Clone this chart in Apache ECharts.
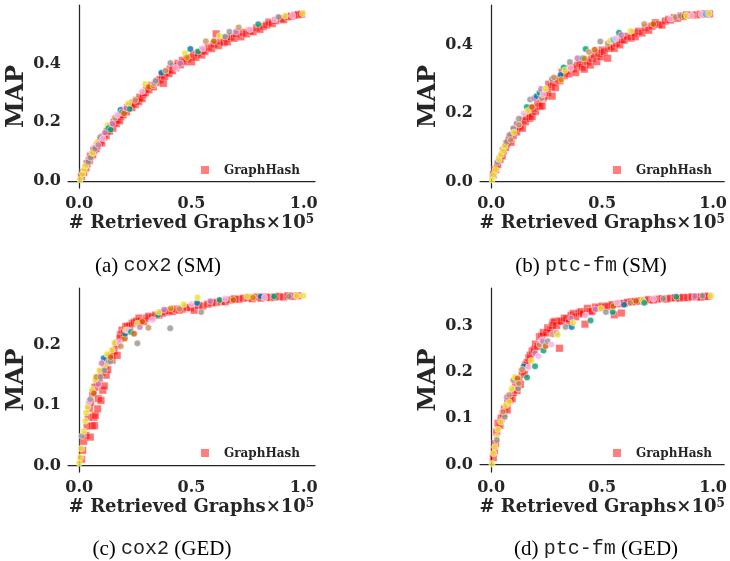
<!DOCTYPE html>
<html>
<head>
<meta charset="utf-8">
<script src="https://cdn.jsdelivr.net/npm/echarts@6/dist/echarts.min.js"></script>
<style>
  html, body { margin: 0; padding: 0; background: #fff; }
  #chart { width: 730px; height: 561px; }
</style>
</head>
<body>
<div id="chart"></div>
<script>
// Retrieval MAP vs number of retrieved graphs (x in units of 1e5).
// GraphHash points: [x, y]; other methods: [x, y, methodIndex].

const coxSmHash = [[0.01,0.015],[0.02,0.03],[0.03,0.045],[0.035,0.06],[0.045,0.07],[0.05,0.085],[0.06,0.09],[0.065,0.105],[0.075,0.11],[0.08,0.12],[0.09,0.13],[0.095,0.14],[0.1,0.13],[0.11,0.15],[0.12,0.155],[0.125,0.17],[0.135,0.17],[0.14,0.185],[0.15,0.18],[0.155,0.2],[0.165,0.195],[0.17,0.21],[0.18,0.205],[0.185,0.22],[0.195,0.225],[0.2,0.24],[0.21,0.235],[0.215,0.25],[0.225,0.255],[0.235,0.25],[0.24,0.265],[0.25,0.26],[0.255,0.275],[0.265,0.27],[0.27,0.285],[0.28,0.28],[0.285,0.295],[0.295,0.3],[0.3,0.315],[0.31,0.31],[0.32,0.325],[0.33,0.32],[0.345,0.335],[0.35,0.34],[0.36,0.345],[0.375,0.332],[0.37,0.36],[0.38,0.355],[0.39,0.37],[0.4,0.365],[0.405,0.38],[0.415,0.375],[0.42,0.39],[0.43,0.385],[0.44,0.4],[0.45,0.395],[0.46,0.41],[0.47,0.405],[0.48,0.415],[0.49,0.42],[0.5,0.405],[0.51,0.43],[0.52,0.42],[0.53,0.435],[0.545,0.428],[0.55,0.445],[0.56,0.44],[0.575,0.455],[0.59,0.45],[0.6,0.465],[0.61,0.5],[0.62,0.46],[0.63,0.475],[0.645,0.47],[0.655,0.485],[0.66,0.473],[0.675,0.49],[0.69,0.485],[0.7,0.5],[0.72,0.49],[0.73,0.505],[0.745,0.5],[0.76,0.51],[0.775,0.507],[0.79,0.52],[0.805,0.515],[0.82,0.525],[0.835,0.53],[0.845,0.54],[0.86,0.535],[0.875,0.545],[0.9,0.552],[0.91,0.548],[0.93,0.558],[0.945,0.56],[0.96,0.563],[0.975,0.565],[0.99,0.567]];

const coxSmOthers = [[0.004,0.006,8],[0.015,0.025,8],[0.022,0.04,8],[0.03,0.052,8],[0.04,0.065,7],[0.05,0.08,7],[0.06,0.095,8],[0.07,0.11,7],[0.079,0.13,8],[0.085,0.123,4],[0.094,0.15,7],[0.105,0.145,6],[0.115,0.165,4],[0.126,0.19,8],[0.13,0.18,2],[0.14,0.175,2],[0.148,0.195,4],[0.159,0.215,5],[0.17,0.225,6],[0.184,0.242,0],[0.19,0.235,7],[0.2,0.23,3],[0.21,0.248,4],[0.219,0.265,8],[0.225,0.245,2],[0.25,0.275,5],[0.28,0.305,6],[0.294,0.33,8],[0.31,0.32,3],[0.33,0.325,1],[0.334,0.333,4],[0.34,0.34,7],[0.366,0.368,0],[0.385,0.375,5],[0.406,0.401,7],[0.43,0.385,6],[0.45,0.4,4],[0.471,0.434,8],[0.48,0.42,1],[0.495,0.449,0],[0.53,0.44,2],[0.55,0.45,6],[0.564,0.475,5],[0.6,0.475,3],[0.625,0.493,8],[0.65,0.49,7],[0.669,0.507,7],[0.699,0.507,4],[0.71,0.522,5],[0.76,0.515,6],[0.797,0.533,2],[0.869,0.549,6],[0.887,0.557,7],[0.917,0.561,8],[0.95,0.562,6],[0.995,0.569,8]];

const ptcSmHash = [[0.01,0.02],[0.02,0.035],[0.03,0.05],[0.04,0.065],[0.05,0.075],[0.055,0.09],[0.065,0.1],[0.07,0.11],[0.08,0.12],[0.085,0.13],[0.09,0.115],[0.1,0.135],[0.105,0.15],[0.115,0.145],[0.12,0.165],[0.13,0.16],[0.141,0.156],[0.145,0.18],[0.155,0.175],[0.16,0.19],[0.17,0.2],[0.175,0.185],[0.185,0.19],[0.19,0.215],[0.2,0.205],[0.21,0.23],[0.22,0.22],[0.23,0.221],[0.235,0.245],[0.245,0.25],[0.255,0.26],[0.26,0.285],[0.27,0.278],[0.275,0.25],[0.28,0.29],[0.29,0.275],[0.3,0.3],[0.31,0.295],[0.32,0.32],[0.33,0.31],[0.34,0.325],[0.35,0.315],[0.36,0.335],[0.37,0.33],[0.381,0.319],[0.39,0.34],[0.4,0.345],[0.41,0.335],[0.42,0.329],[0.425,0.355],[0.435,0.35],[0.447,0.341],[0.455,0.36],[0.465,0.37],[0.476,0.351],[0.485,0.375],[0.495,0.365],[0.5,0.385],[0.51,0.38],[0.525,0.361],[0.53,0.39],[0.54,0.395],[0.555,0.39],[0.565,0.405],[0.58,0.4],[0.59,0.415],[0.6,0.414],[0.615,0.425],[0.63,0.42],[0.645,0.435],[0.65,0.424],[0.665,0.44],[0.68,0.435],[0.695,0.45],[0.71,0.443],[0.725,0.455],[0.74,0.465],[0.755,0.46],[0.77,0.458],[0.785,0.47],[0.8,0.475],[0.808,0.473],[0.825,0.48],[0.84,0.478],[0.855,0.485],[0.866,0.483],[0.88,0.488],[0.9,0.487],[0.925,0.488],[0.945,0.49],[0.965,0.491],[0.984,0.491]];

const ptcSmOthers = [[0.004,0.005,8],[0.012,0.02,8],[0.02,0.035,8],[0.029,0.057,7],[0.035,0.065,8],[0.044,0.078,8],[0.055,0.09,8],[0.062,0.104,8],[0.07,0.116,7],[0.085,0.137,7],[0.088,0.122,5],[0.1,0.156,7],[0.103,0.144,8],[0.115,0.17,4],[0.125,0.184,7],[0.125,0.166,5],[0.147,0.2,6],[0.161,0.218,2],[0.165,0.207,8],[0.176,0.24,7],[0.184,0.218,3],[0.194,0.244,4],[0.205,0.25,0],[0.218,0.26,2],[0.225,0.271,4],[0.228,0.244,5],[0.235,0.255,6],[0.245,0.272,8],[0.274,0.3,7],[0.283,0.305,5],[0.313,0.312,0],[0.315,0.298,1],[0.327,0.334,2],[0.333,0.326,8],[0.355,0.35,7],[0.358,0.332,6],[0.389,0.361,4],[0.414,0.361,0],[0.42,0.36,1],[0.426,0.388,2],[0.441,0.379,5],[0.467,0.386,3],[0.492,0.41,7],[0.526,0.405,5],[0.536,0.412,8],[0.55,0.415,9],[0.562,0.419,6],[0.576,0.436,2],[0.587,0.429,4],[0.629,0.441,8],[0.69,0.461,5],[0.731,0.461,3],[0.808,0.476,6],[0.83,0.481,5],[0.852,0.485,7],[0.87,0.484,3],[0.881,0.486,8],[0.903,0.486,6],[0.947,0.49,6],[0.965,0.49,9],[0.981,0.492,8]];

const coxGedHash = [[0.01,0.01],[0.015,0.025],[0.02,0.04],[0.03,0.05],[0.035,0.065],[0.04,0.08],[0.045,0.095],[0.049,0.047],[0.05,0.105],[0.057,0.066],[0.06,0.12],[0.065,0.08],[0.068,0.066],[0.07,0.13],[0.072,0.083],[0.08,0.138],[0.082,0.094],[0.085,0.111],[0.09,0.145],[0.097,0.108],[0.1,0.155],[0.105,0.125],[0.112,0.132],[0.115,0.165],[0.12,0.15],[0.124,0.173],[0.127,0.159],[0.135,0.18],[0.144,0.183],[0.146,0.175],[0.155,0.19],[0.165,0.2],[0.169,0.183],[0.17,0.203],[0.181,0.211],[0.184,0.217],[0.19,0.225],[0.2,0.22],[0.207,0.231],[0.214,0.231],[0.225,0.232],[0.236,0.236],[0.245,0.238],[0.255,0.24],[0.266,0.245],[0.275,0.24],[0.288,0.239],[0.3,0.245],[0.31,0.248],[0.326,0.247],[0.34,0.25],[0.355,0.25],[0.37,0.253],[0.385,0.255],[0.4,0.257],[0.415,0.256],[0.43,0.26],[0.445,0.258],[0.46,0.26],[0.48,0.263],[0.495,0.262],[0.512,0.258],[0.53,0.266],[0.55,0.265],[0.572,0.268],[0.59,0.27],[0.61,0.271],[0.632,0.273],[0.65,0.272],[0.67,0.275],[0.692,0.277],[0.71,0.276],[0.73,0.278],[0.752,0.279],[0.77,0.277],[0.79,0.28],[0.81,0.278],[0.83,0.28],[0.85,0.279],[0.87,0.28],[0.89,0.281],[0.91,0.28],[0.93,0.282],[0.95,0.281],[0.975,0.282]];

const coxGedOthers = [[0.0,0.004,8],[0.005,0.013,8],[0.009,0.028,8],[0.012,0.049,7],[0.02,0.057,8],[0.027,0.074,8],[0.031,0.088,8],[0.037,0.097,8],[0.042,0.105,6],[0.049,0.11,7],[0.057,0.126,8],[0.065,0.12,3],[0.072,0.142,8],[0.076,0.147,1],[0.085,0.135,4],[0.094,0.147,7],[0.09,0.158,8],[0.112,0.166,8],[0.112,0.158,7],[0.109,0.178,0],[0.1,0.17,4],[0.124,0.185,8],[0.131,0.173,7],[0.139,0.173,7],[0.146,0.192,8],[0.14,0.18,3],[0.157,0.204,8],[0.177,0.204,6],[0.185,0.198,5],[0.203,0.211,3],[0.204,0.219,0],[0.208,0.225,8],[0.217,0.225,6],[0.23,0.222,2],[0.244,0.219,3],[0.259,0.203,7],[0.259,0.236,8],[0.27,0.23,4],[0.281,0.239,3],[0.308,0.229,5],[0.326,0.242,6],[0.351,0.25,2],[0.355,0.255,8],[0.378,0.259,4],[0.405,0.228,7],[0.408,0.261,1],[0.446,0.26,5],[0.465,0.268,8],[0.501,0.268,6],[0.525,0.27,0],[0.527,0.279,8],[0.543,0.255,7],[0.584,0.273,4],[0.625,0.275,2],[0.65,0.277,6],[0.687,0.275,3],[0.749,0.281,8],[0.774,0.279,1],[0.808,0.281,0],[0.826,0.279,6],[0.868,0.281,2],[0.934,0.281,7],[0.968,0.282,8],[0.998,0.282,8]];

const ptcGedHash = [[0.01,0.015],[0.015,0.03],[0.02,0.045],[0.025,0.07],[0.031,0.089],[0.04,0.085],[0.045,0.1],[0.055,0.11],[0.06,0.12],[0.073,0.118],[0.075,0.135],[0.085,0.14],[0.095,0.142],[0.1,0.155],[0.11,0.17],[0.117,0.16],[0.125,0.18],[0.132,0.173],[0.14,0.2],[0.15,0.195],[0.155,0.215],[0.162,0.22],[0.17,0.23],[0.176,0.236],[0.185,0.245],[0.194,0.248],[0.2,0.26],[0.21,0.255],[0.218,0.276],[0.228,0.277],[0.235,0.285],[0.25,0.284],[0.255,0.295],[0.268,0.292],[0.275,0.3],[0.279,0.306],[0.286,0.309],[0.295,0.3],[0.308,0.251],[0.31,0.31],[0.317,0.309],[0.33,0.316],[0.34,0.315],[0.352,0.306],[0.36,0.322],[0.37,0.326],[0.381,0.319],[0.396,0.327],[0.405,0.33],[0.415,0.325],[0.423,0.303],[0.434,0.337],[0.445,0.33],[0.455,0.331],[0.47,0.34],[0.484,0.338],[0.5,0.342],[0.515,0.34],[0.529,0.342],[0.545,0.345],[0.555,0.323],[0.573,0.347],[0.587,0.327],[0.6,0.348],[0.615,0.35],[0.632,0.351],[0.65,0.352],[0.67,0.353],[0.69,0.354],[0.71,0.356],[0.73,0.355],[0.749,0.357],[0.77,0.358],[0.79,0.357],[0.808,0.359],[0.83,0.36],[0.85,0.359],[0.866,0.361],[0.885,0.36],[0.905,0.362],[0.925,0.362],[0.945,0.361],[0.96,0.363],[0.977,0.363]];

const ptcGedOthers = [[0.004,0.002,8],[0.011,0.024,8],[0.017,0.038,8],[0.025,0.06,8],[0.026,0.053,7],[0.031,0.076,8],[0.044,0.092,8],[0.062,0.103,7],[0.054,0.114,5],[0.066,0.128,8],[0.081,0.135,8],[0.071,0.146,4],[0.081,0.15,5],[0.093,0.164,8],[0.1,0.182,5],[0.108,0.189,8],[0.122,0.164,7],[0.119,0.186,3],[0.125,0.175,5],[0.147,0.212,0],[0.14,0.205,5],[0.162,0.188,2],[0.169,0.21,6],[0.181,0.224,8],[0.198,0.212,2],[0.198,0.24,4],[0.213,0.234,6],[0.218,0.259,5],[0.228,0.268,6],[0.233,0.266,4],[0.236,0.246,2],[0.246,0.256,3],[0.255,0.266,7],[0.272,0.259,6],[0.277,0.281,5],[0.294,0.284,4],[0.3,0.28,8],[0.335,0.297,7],[0.36,0.316,4],[0.363,0.297,0],[0.37,0.306,8],[0.426,0.322,6],[0.448,0.311,2],[0.47,0.335,4],[0.495,0.337,8],[0.517,0.329,7],[0.548,0.329,2],[0.551,0.342,3],[0.568,0.349,6],[0.599,0.345,0],[0.627,0.349,5],[0.653,0.353,3],[0.683,0.354,8],[0.69,0.349,2],[0.731,0.358,6],[0.775,0.358,7],[0.834,0.362,2],[0.918,0.363,4],[0.952,0.364,7],[0.991,0.364,8]];

const xTicks = [0, 0.5, 1.0];
const yTicksCoxSm = [0, 0.2, 0.4];
const yTicksPtcSm = [0, 0.2, 0.4];
const yTicksCoxGed = [0, 0.1, 0.2];
const yTicksPtcGed = [0, 0.1, 0.2, 0.3];

const legendLabel = 'GraphHash';

const captions = [
  ['(a) ', 'cox2', ' (SM)'],
  ['(b) ', 'ptc-fm', ' (SM)'],
  ['(c) ', 'cox2', ' (GED)'],
  ['(d) ', 'ptc-fm', ' (GED)']
];

// colour-blind friendly palette for the comparison methods
const palette = ['#0173b2','#de8f05','#029e73','#d55e00','#cc78bc','#ca9161','#fbafe4','#949494','#ece133','#56b4e9'];

const INK = '#262626';
const SERIF = 'DejaVu Serif';

const panels = [
  { hash: coxSmHash, others: coxSmOthers, yTicks: yTicksCoxSm, ymin: -0.023, ymax: 0.598,
    grid: { left: 68, top: 5, width: 247, height: 183 }, cap: [158, 266] },
  { hash: ptcSmHash, others: ptcSmOthers, yTicks: yTicksPtcSm, ymin: -0.019, ymax: 0.517,
    grid: { left: 480, top: 5, width: 248, height: 183 }, cap: [591, 266] },
  { hash: coxGedHash, others: coxGedOthers, yTicks: yTicksCoxGed, ymin: -0.011, ymax: 0.295,
    grid: { left: 68, top: 288, width: 247, height: 184 }, cap: [162, 549] },
  { hash: ptcGedHash, others: ptcGedOthers, yTicks: yTicksPtcGed, ymin: -0.016, ymax: 0.381,
    grid: { left: 480, top: 288, width: 248, height: 184 }, cap: [596, 549] }
];

const axisLine = { show: true, lineStyle: { color: INK, width: 1.25 } };
const tickFont = { fontFamily: SERIF, fontWeight: 'bold', fontSize: 16, color: INK };

const option = {
  animation: false,
  backgroundColor: '#fff',
  grid: [], xAxis: [], yAxis: [], series: [], graphic: []
};

panels.forEach((p, i) => {
  option.grid.push(p.grid);
  option.xAxis.push({
    type: 'value', gridIndex: i, min: -0.05, max: 1.05,
    axisLine, axisTick: { show: false }, splitLine: { show: false },
    axisLabel: Object.assign({ customValues: xTicks, margin: 8, formatter: v => v.toFixed(1) }, tickFont),
    name: '# Retrieved Graphs×10{sup|5}', nameLocation: 'middle', nameGap: 26,
    nameTextStyle: {
      fontFamily: SERIF, fontWeight: 'bold', fontSize: 18, color: INK,
      rich: { sup: { fontFamily: SERIF, fontWeight: 'bold', fontSize: 12, color: INK, verticalAlign: 'top' } }
    }
  });
  option.yAxis.push({
    type: 'value', gridIndex: i, min: p.ymin, max: p.ymax,
    axisLine, axisTick: { show: false }, splitLine: { show: false },
    axisLabel: Object.assign({ customValues: p.yTicks, margin: 7, formatter: v => v.toFixed(1) }, tickFont),
    name: 'MAP', nameLocation: 'middle', nameGap: 38, nameRotate: 90,
    nameTextStyle: { fontFamily: SERIF, fontWeight: 'bold', fontSize: 24, color: INK }
  });
  option.series.push({
    type: 'scatter', name: legendLabel, xAxisIndex: i, yAxisIndex: i,
    symbol: 'rect', symbolSize: 7.5, data: p.hash,
    itemStyle: { color: '#ff0000', opacity: 0.55, borderColor: '#ffffff', borderWidth: 0.6 }
  });
  option.series.push({
    type: 'scatter', name: 'others' + i, xAxisIndex: i, yAxisIndex: i,
    symbol: 'circle', symbolSize: 6.5, data: p.others,
    itemStyle: { color: d => palette[d.value[2]], borderColor: '#fff', borderWidth: 0.6 }
  });

  // legend key: square marker + label in the lower-right corner of the panel
  option.graphic.push({
    type: 'group', x: p.grid.left + 133, y: p.grid.top + 161,
    children: [
      { type: 'rect', shape: { x: 0, y: 0, width: 8, height: 8 }, style: { fill: '#ff7f7f' } },
      { type: 'text', x: 23, y: 4.5,
        style: { text: legendLabel, fontFamily: SERIF, fontWeight: 'bold', fontSize: 12,
                 fill: INK, verticalAlign: 'middle', align: 'left' } }
    ]
  });

  const c = captions[i];
  option.graphic.push({
    type: 'text', x: p.cap[0], y: p.cap[1],
    style: {
      text: '{s|' + c[0] + '}{m|' + c[1] + '}{s|' + c[2] + '}',
      align: 'center', verticalAlign: 'middle',
      rich: {
        s: { fontFamily: 'Liberation Serif', fontSize: 21, fill: '#000' },
        m: { fontFamily: 'Liberation Mono', fontSize: 20, fill: '#222' }
      }
    }
  });
});

const chart = echarts.init(document.getElementById('chart'), null, { renderer: 'canvas' });
chart.setOption(option);
</script>
</body>
</html>
